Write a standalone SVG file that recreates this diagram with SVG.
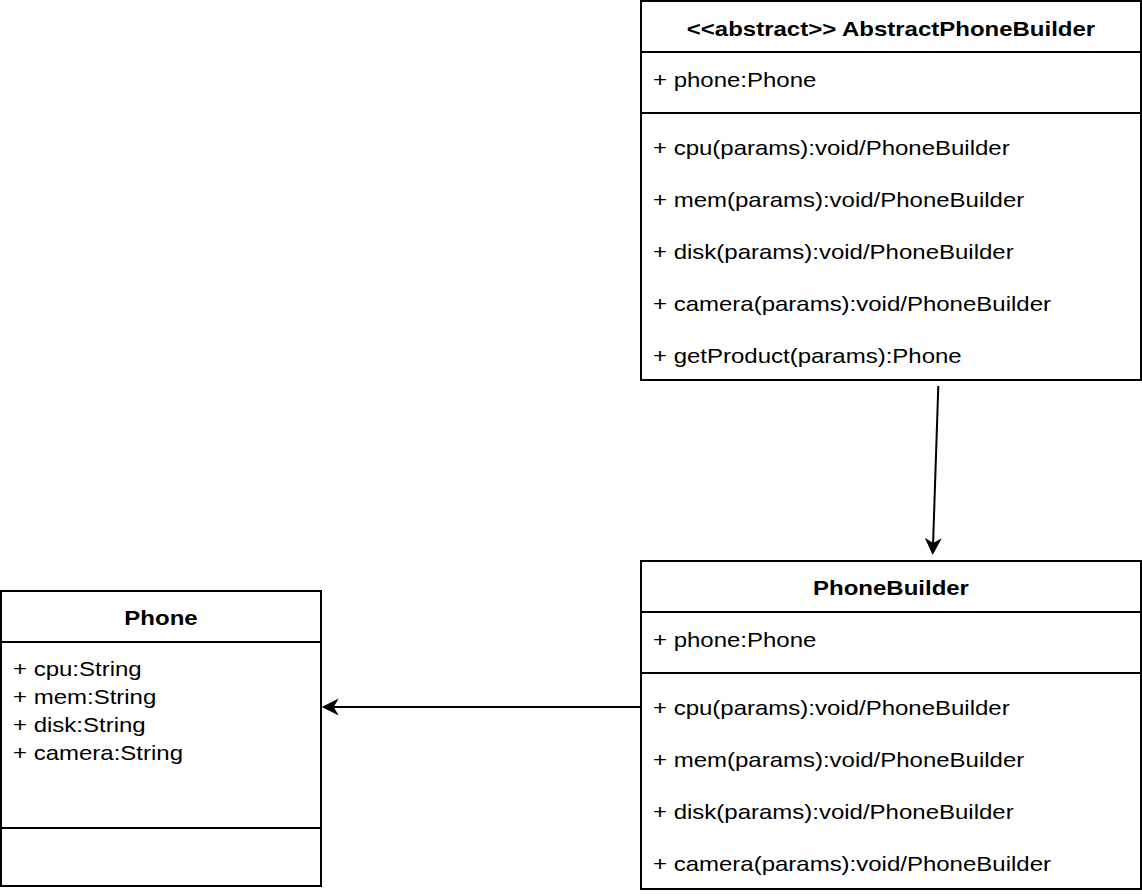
<svg xmlns="http://www.w3.org/2000/svg" width="1142" height="896" viewBox="0 0 1142 896">
<style>
.box{fill:#fff;stroke:#000;stroke-width:2}
.sep{stroke:#000;stroke-width:2;fill:none}
.t{font-family:"Liberation Sans",Arial,sans-serif;font-size:20px;fill:#000}
.b{font-weight:bold;text-anchor:middle}
.edge{stroke:#000;stroke-width:2;fill:none;marker-end:url(#arr)}
</style>
<defs>
<marker id="arr" markerUnits="userSpaceOnUse" viewBox="-18 -9 19 18" refX="-12" refY="0" markerWidth="19" markerHeight="18" orient="auto">
<path d="M0,0 L-17,-8.5 L-12,0 L-17,8.5 Z" fill="#000"/>
</marker>
</defs>
<rect width="1142" height="896" fill="#fff"/>
<g id="AbstractPhoneBuilder">
<rect class="box" x="641" y="1" width="500" height="379"/>
<line class="sep" x1="641" y1="52" x2="1141" y2="52"/>
<line class="sep" x1="641" y1="113" x2="1141" y2="113"/>
<text class="t b" transform="translate(891,36) scale(1.2,1)">&lt;&lt;abstract&gt;&gt; AbstractPhoneBuilder</text>
<text class="t" transform="translate(653,87) scale(1.2,1)">+ phone:Phone</text>
<text class="t" transform="translate(653,155) scale(1.2,1)">+ cpu(params):void/PhoneBuilder</text>
<text class="t" transform="translate(653,207) scale(1.2,1)">+ mem(params):void/PhoneBuilder</text>
<text class="t" transform="translate(653,259) scale(1.2,1)">+ disk(params):void/PhoneBuilder</text>
<text class="t" transform="translate(653,311) scale(1.2,1)">+ camera(params):void/PhoneBuilder</text>
<text class="t" transform="translate(653,363) scale(1.2,1)">+ getProduct(params):Phone</text>
</g>
<g id="PhoneBuilder">
<rect class="box" x="641" y="561" width="500" height="328"/>
<line class="sep" x1="641" y1="612" x2="1141" y2="612"/>
<line class="sep" x1="641" y1="673" x2="1141" y2="673"/>
<text class="t b" transform="translate(891,595) scale(1.2,1)">PhoneBuilder</text>
<text class="t" transform="translate(653,647) scale(1.2,1)">+ phone:Phone</text>
<text class="t" transform="translate(653,715) scale(1.2,1)">+ cpu(params):void/PhoneBuilder</text>
<text class="t" transform="translate(653,767) scale(1.2,1)">+ mem(params):void/PhoneBuilder</text>
<text class="t" transform="translate(653,819) scale(1.2,1)">+ disk(params):void/PhoneBuilder</text>
<text class="t" transform="translate(653,871) scale(1.2,1)">+ camera(params):void/PhoneBuilder</text>
</g>
<g id="Phone">
<rect class="box" x="1" y="591" width="320" height="295"/>
<line class="sep" x1="1" y1="642" x2="321" y2="642"/>
<line class="sep" x1="1" y1="828" x2="321" y2="828"/>
<text class="t b" transform="translate(161,625) scale(1.2,1)">Phone</text>
<text class="t" transform="translate(13,676) scale(1.2,1)">+ cpu:String</text>
<text class="t" transform="translate(13,704) scale(1.2,1)">+ mem:String</text>
<text class="t" transform="translate(13,732) scale(1.2,1)">+ disk:String</text>
<text class="t" transform="translate(13,760) scale(1.2,1)">+ camera:String</text>
</g>
<g id="connectors">
<line class="edge" x1="938.3" y1="386" x2="933.1" y2="543"/>
<line class="edge" x1="641" y1="707" x2="333.7" y2="707"/>
</g>
</svg>
